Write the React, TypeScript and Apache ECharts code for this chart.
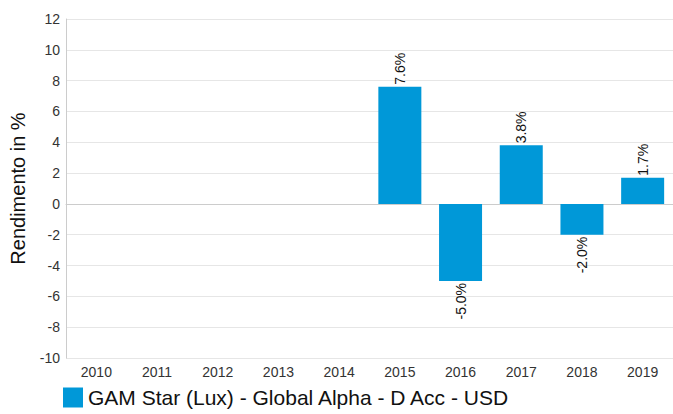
import React, { useEffect, useRef } from "react";
import * as echarts from "echarts";

const categories = ["2010", "2011", "2012", "2013", "2014", "2015", "2016", "2017", "2018", "2019"];
const returns: (number | null)[] = [null, null, null, null, null, 7.6, -5.0, 3.8, -2.0, 1.7];
const seriesName = "GAM Star (Lux) - Global Alpha - D Acc - USD";
const yMin = -10;
const yMax = 12;
const yInterval = 2;

export default function App() {
  const ref = useRef<HTMLDivElement>(null);
  useEffect(() => {
    if (!ref.current) return;
    const chart = echarts.init(ref.current, null, { renderer: "svg" });
    const font = "'Liberation Sans', Arial, sans-serif";
    chart.setOption({
      animation: false,
      textStyle: { fontFamily: font },
      grid: { left: 65, right: -2, top: 19, bottom: 56 },
      legend: {
        data: [seriesName],
        left: 58,
        bottom: 1,
        itemWidth: 20,
        itemHeight: 20,
        itemGap: 8,
        icon: "rect",
        textStyle: { fontSize: 21, color: "#111", fontFamily: font },
      },
      xAxis: {
        type: "category",
        data: categories,
        axisLine: { show: true, lineStyle: { color: "#ccc" } },
        axisTick: { show: false },
        axisLabel: { color: "#333", fontSize: 14, margin: 7, fontFamily: font },
      },
      yAxis: {
        type: "value",
        min: yMin,
        max: yMax,
        interval: yInterval,
        name: "Rendimento in %",
        nameLocation: "middle",
        nameGap: 38,
        nameTextStyle: { fontSize: 20, color: "#111", fontFamily: font },
        axisLine: { show: true, lineStyle: { color: "#ccc" } },
        axisTick: { show: false },
        axisLabel: { color: "#333", fontSize: 14, margin: 6, fontFamily: font },
        splitLine: { lineStyle: { color: "#e6e6e6" } },
      },
      series: [
        {
          name: seriesName,
          type: "bar",
          barWidth: 43,
          itemStyle: { color: "#0098d8" },
          data: returns.map((v) =>
            v === null
              ? null
              : {
                  value: v,
                  label: {
                    show: true,
                    position: v >= 0 ? "top" : "bottom",
                    rotate: 90,
                    align: v >= 0 ? "left" : "right",
                    verticalAlign: "middle",
                    distance: 2,
                    fontSize: 14,
                    color: "#111",
                    fontFamily: font,
                    formatter: () => v.toFixed(1) + "%",
                  },
                }
          ),
        },
      ],
    });
    return () => chart.dispose();
  }, []);
  return <div ref={ref} style={{ position: "absolute", left: 0, top: 0, width: 673, height: 414 }} />;
}
